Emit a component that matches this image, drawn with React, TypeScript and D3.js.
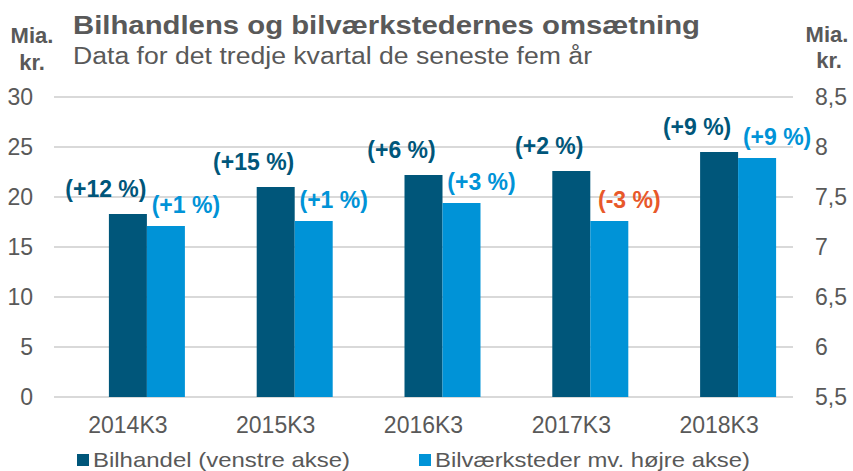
import React from "react";
import { scaleBand, scaleLinear } from "d3";

const categories = ["2014K3", "2015K3", "2016K3", "2017K3", "2018K3"];
// Bilhandel, venstre akse (mia. kr.)
const bilhandel = [18.3, 21.0, 22.2, 22.6, 24.5];
// Bilværksteder mv., højre akse (mia. kr.)
const vaerksteder = [7.21, 7.26, 7.44, 7.26, 7.89];
const bilhandelLabels = ["(+12 %)", "(+15 %)", "(+6 %)", "(+2 %)", "(+9 %)"];
const vaerkstederLabels = ["(+1 %)", "(+1 %)", "(+3 %)", "(-3 %)", "(+9 %)"];
const leftTicks = [0, 5, 10, 15, 20, 25, 30];
const rightTicks = [5.5, 6, 6.5, 7, 7.5, 8, 8.5];

const DARK = "#00567a";
const LIGHT = "#0093d7";
const NEG = "#e8582a";
const GREY = "#595959";
const FONT = "'Liberation Sans', Arial, sans-serif";

const App = () => {
  const x = scaleBand().domain(categories).range([54, 793]);
  const yLeft = scaleLinear().domain([0, 30]).range([397, 97]);
  const yRight = scaleLinear().domain([5.5, 8.5]).range([397, 97]);
  const barW = 38;
  const fmt = (v: number) => String(v).replace(".", ",");

  return (
    <svg
      width={853}
      height={471}
      style={{ position: "absolute", left: 0, top: 0, fontFamily: FONT }}
    >
      <rect width={853} height={471} fill="#fff" />
      {/* titel */}
      <text x={73} y={34} fontSize={26} fontWeight="bold" fill={GREY} textLength={627} lengthAdjust="spacingAndGlyphs">
        Bilhandlens og bilværkstedernes omsætning
      </text>
      <text x={73} y={64} fontSize={23} fill={GREY} textLength={519} lengthAdjust="spacingAndGlyphs">
        Data for det tredje kvartal de seneste fem år
      </text>
      <text x={32} y={43} fontSize={22} fontWeight="bold" fill={GREY} textAnchor="middle">Mia.</text>
      <text x={32} y={70} fontSize={22} fontWeight="bold" fill={GREY} textAnchor="middle">kr.</text>
      <text x={827} y={42} fontSize={22} fontWeight="bold" fill={GREY} textAnchor="middle">Mia.</text>
      <text x={829} y={68} fontSize={22} fontWeight="bold" fill={GREY} textAnchor="middle">kr.</text>

      {/* gitterlinjer og akser */}
      {leftTicks.map((t) => (
        <g key={"l" + t}>
          <line x1={54} x2={793} y1={yLeft(t)} y2={yLeft(t)} stroke="#d9d9d9" strokeWidth={2} />
          <text x={33} y={yLeft(t)} dy="0.35em" fontSize={23} fill={GREY} textAnchor="end">
            {t}
          </text>
        </g>
      ))}
      {rightTicks.map((t) => (
        <text key={"r" + t} x={815} y={yRight(t)} dy="0.35em" fontSize={23} fill={GREY}>
          {fmt(t)}
        </text>
      ))}

      {/* søjler */}
      {categories.map((c, i) => {
        const cx = x(c)! + x.bandwidth() / 2;
        return (
          <g key={c}>
            <rect x={cx - barW / 2} y={yLeft(bilhandel[i])} width={barW} height={yLeft(0) - yLeft(bilhandel[i])} fill={DARK} />
            <rect x={cx + barW / 2} y={yRight(vaerksteder[i])} width={barW} height={yRight(5.5) - yRight(vaerksteder[i])} fill={LIGHT} />
            <text x={cx - 22} y={yLeft(bilhandel[i]) - 17} fontSize={23} fontWeight="bold" fill={DARK} textAnchor="middle">
              {bilhandelLabels[i]}
            </text>
            <text
              x={cx + 58}
              y={yRight(vaerksteder[i]) - 13}
              fontSize={23}
              fontWeight="bold"
              fill={vaerkstederLabels[i].startsWith("(-") ? NEG : LIGHT}
              textAnchor="middle"
            >
              {vaerkstederLabels[i]}
            </text>
            <text x={cx} y={425} dy="0.35em" fontSize={23} fill={GREY} textAnchor="middle">
              {c}
            </text>
          </g>
        );
      })}

      {/* legende */}
      <rect x={77} y={454} width={12} height={12} fill={DARK} />
      <text x={93} y={467} fontSize={21} fill={GREY} textLength={257} lengthAdjust="spacingAndGlyphs">
        Bilhandel (venstre akse)
      </text>
      <rect x={419} y={454} width={12} height={12} fill={LIGHT} />
      <text x={435} y={467} fontSize={21} fill={GREY} textLength={315} lengthAdjust="spacingAndGlyphs">
        Bilværksteder mv. højre akse)
      </text>
    </svg>
  );
};

export default App;
